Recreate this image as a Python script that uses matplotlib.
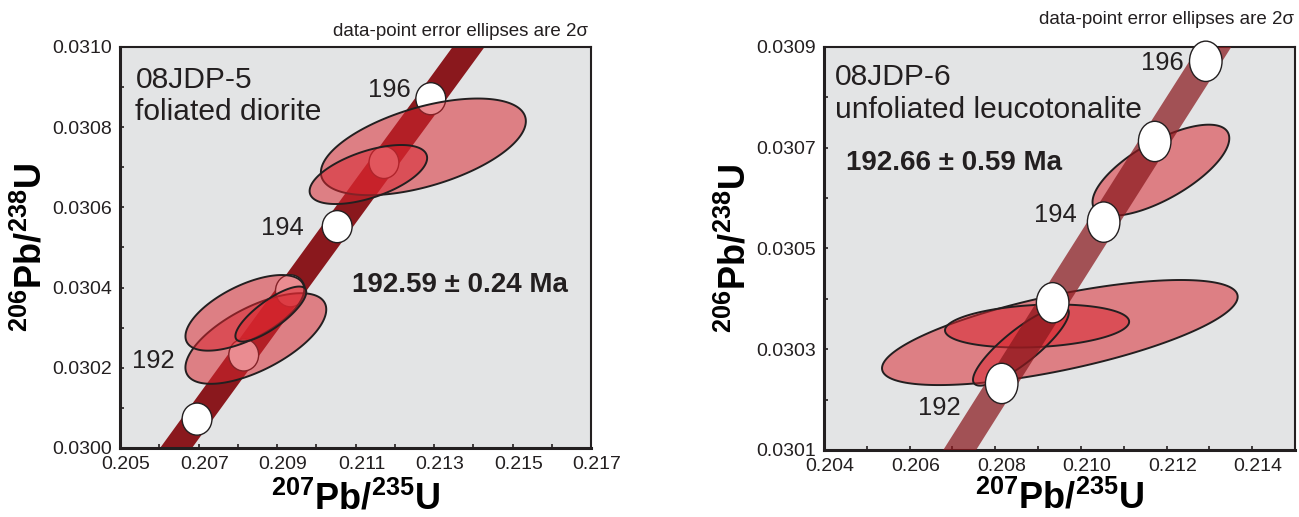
import numpy as np
import matplotlib
matplotlib.use("Agg")
import matplotlib.pyplot as plt
import matplotlib.transforms as mtransforms
from matplotlib.patches import Polygon, Ellipse
from matplotlib.ticker import FixedLocator, FormatStrFormatter

plt.rcParams['font.family'] = ['Liberation Sans', 'DejaVu Sans']
plt.rcParams['mathtext.fontset'] = 'custom'
plt.rcParams['mathtext.rm'] = 'Liberation Sans'
plt.rcParams['mathtext.bf'] = 'Liberation Sans:bold'

# concordia points (Ma, 207Pb/235U, 206Pb/238U)
conc_age = [190, 191, 192, 193, 194, 195, 196, 197]
conc_x = [0.205774, 0.206962, 0.208151, 0.209341, 0.210532, 0.211724, 0.212917, 0.214111]
conc_y = [0.029912, 0.030072, 0.030232, 0.030392, 0.030552, 0.030712, 0.030871, 0.031031]

# 08JDP-5 analyses: centre, 2-sigma half extents, error correlation
l_x = [0.212728, 0.211327, 0.208460, 0.208180, 0.208842]
l_y = [0.030751, 0.030682, 0.030273, 0.030337, 0.030334]
l_ex = [0.002611, 0.001497, 0.001794, 0.001513, 0.000903]
l_ey = [0.0001205, 0.0000736, 0.000113, 0.0000943, 0.0000686]
l_rho = [0.53, 0.56, 0.64, 0.62, 0.80]
l_marker_ages = [191, 192, 193, 194, 195, 196]
l_lbl = ['192', '194', '196']
l_lbl_x = [0.206401, 0.209670, 0.212399]
l_lbl_y = [0.030218, 0.030549, 0.030893]
l_xticks = [0.205, 0.207, 0.209, 0.211, 0.213, 0.215, 0.217]
l_xminor = [0.206, 0.208, 0.210, 0.212, 0.214, 0.216]
l_yticks = [0.0300, 0.0302, 0.0304, 0.0306, 0.0308, 0.0310]
l_yminor = [0.0301, 0.0303, 0.0305, 0.0307, 0.0309]

# 08JDP-6 analyses
r_x = [0.209509, 0.208977, 0.211869, 0.208600]
r_y = [0.030333, 0.030346, 0.030655, 0.030306]
r_ex = [0.004153, 0.002150, 0.001597, 0.001119]
r_ey = [0.0001042, 0.0000427, 0.0000903, 0.0000784]
r_rho = [0.68, 0.20, 0.70, 0.85]
r_marker_ages = [192, 193, 194, 195, 196]
r_lbl = ['192', '194', '196']
r_lbl_x = [0.207187, 0.209911, 0.212395]
r_lbl_y = [0.030183, 0.030566, 0.030867]
r_xticks = [0.204, 0.206, 0.208, 0.210, 0.212, 0.214]
r_xminor = [0.205, 0.207, 0.209, 0.211, 0.213, 0.215]
r_yticks = [0.0301, 0.0303, 0.0305, 0.0307, 0.0309]
r_yminor = [0.0302, 0.0304, 0.0306, 0.0308]

BG = '#e3e4e5'
INK = '#231f20'
BAND = '#8a181d'
FILL = (0.851, 0.149, 0.184, 0.53)


def error_ellipse(ax, cx, cy, ex, ey, rho):
    t = np.linspace(0, 2 * np.pi, 200)
    xs = cx + ex * np.cos(t)
    ys = cy + ey * (rho * np.cos(t) + np.sqrt(1 - rho ** 2) * np.sin(t))
    pts = np.column_stack([xs, ys])
    ax.add_patch(Polygon(pts, closed=True, facecolor=FILL, edgecolor='none', zorder=3))
    ax.add_patch(Polygon(pts, closed=True, fill=False, edgecolor=INK,
                         linewidth=1.4, zorder=3))


def markers(ax, ages, z):
    for a in ages:
        i = conc_age.index(a)
        ax.add_patch(Ellipse((conc_x[i], conc_y[i]), 0.00076, 0.00008,
                             facecolor='white', edgecolor=INK, linewidth=1.0,
                             zorder=z, clip_on=False))


def style(ax, xlim, ylim, xt, xm, yt, ym, xlab_y):
    ax.set_facecolor(BG)
    ax.set_xlim(*xlim)
    ax.set_ylim(*ylim)
    ax.xaxis.set_major_locator(FixedLocator(xt))
    ax.xaxis.set_minor_locator(FixedLocator(xm))
    ax.yaxis.set_major_locator(FixedLocator(yt))
    ax.yaxis.set_minor_locator(FixedLocator(ym))
    ax.xaxis.set_major_formatter(FormatStrFormatter('%.3f'))
    ax.yaxis.set_major_formatter(FormatStrFormatter('%.4f'))
    ax.tick_params(which='both', direction='in', length=3, width=1.2,
                   color=INK, labelcolor=INK, labelsize=14, pad=5.5)
    for s in ['left', 'bottom']:
        ax.spines[s].set_linewidth(2.2)
        ax.spines[s].set_color(INK)
    for s in ['top', 'right']:
        ax.spines[s].set_linewidth(1.5)
        ax.spines[s].set_color(INK)
    ax.set_xlabel(r'$^{\mathbf{207}}\mathbf{Pb/}^{\mathbf{235}}\mathbf{U}$', fontsize=26)
    ax.set_ylabel(r'$^{\mathbf{206}}\mathbf{Pb/}^{\mathbf{238}}\mathbf{U}$', fontsize=26)
    ax.xaxis.set_label_coords(0.5, xlab_y)
    ax.yaxis.set_label_coords(-0.150, 0.5)
    off = mtransforms.ScaledTranslation(0.06, 0, ax.figure.dpi_scale_trans)
    for lab in ax.get_xticklabels():
        lab.set_transform(lab.get_transform() + off)


fig = plt.figure(figsize=(12.99, 5.17), dpi=100)
axl = fig.add_axes([0.0924, 0.1335, 0.3626, 0.7756])
axr = fig.add_axes([0.6343, 0.1296, 0.3626, 0.7801])

# left panel: band, markers, then translucent ellipses
style(axl, (0.205, 0.217), (0.0300, 0.0310), l_xticks, l_xminor, l_yticks, l_yminor, -0.083)
axl.plot(conc_x, conc_y, color=BAND, linewidth=18.6, solid_capstyle='butt', zorder=1)
markers(axl, l_marker_ages, 2)
for i in range(len(l_x)):
    error_ellipse(axl, l_x[i], l_y[i], l_ex[i], l_ey[i], l_rho[i])
for s, x, y in zip(l_lbl, l_lbl_x, l_lbl_y):
    axl.text(x, y, s, fontsize=18.4, ha='right', va='center', color=INK, zorder=5)
axl.text(0.0327, 0.897, '08JDP-5', transform=axl.transAxes, fontsize=21.6,
         va='baseline', color=INK)
axl.text(0.0327, 0.818, 'foliated diorite', transform=axl.transAxes, fontsize=21.6,
         va='baseline', color=INK)
axl.text(0.4926, 0.390, '192.59 ± 0.24 Ma', transform=axl.transAxes, fontsize=20,
         fontweight='bold', va='baseline', color=INK)
axl.text(0.9926, 1.038, 'data-point error ellipses are 2σ', transform=axl.transAxes,
         fontsize=13.5, ha='right', va='center', color=INK)

# right panel: ellipses, translucent band, markers on top
style(axr, (0.204, 0.215), (0.0301, 0.0309), r_xticks, r_xminor, r_yticks, r_yminor, -0.076)
for i in range(len(r_x)):
    error_ellipse(axr, r_x[i], r_y[i], r_ex[i], r_ey[i], r_rho[i])
axr.plot(conc_x, conc_y, color=BAND, alpha=0.72, linewidth=20, solid_capstyle='butt', zorder=4)
markers(axr, r_marker_ages, 6)
for s, x, y in zip(r_lbl, r_lbl_x, r_lbl_y):
    axr.text(x, y, s, fontsize=18.4, ha='right', va='center', color=INK, zorder=7)
axr.text(0.0242, 0.905, '08JDP-6', transform=axr.transAxes, fontsize=21.6,
         va='baseline', color=INK)
axr.text(0.0242, 0.822, 'unfoliated leucotonalite', transform=axr.transAxes, fontsize=21.6,
         va='baseline', color=INK)
axr.text(0.0463, 0.694, '192.66 ± 0.59 Ma', transform=axr.transAxes, fontsize=20,
         fontweight='bold', va='baseline', color=INK)
axr.text(0.997, 1.068, 'data-point error ellipses are 2σ', transform=axr.transAxes,
         fontsize=13.5, ha='right', va='center', color=INK)

fig.savefig('out.png', dpi=100)
